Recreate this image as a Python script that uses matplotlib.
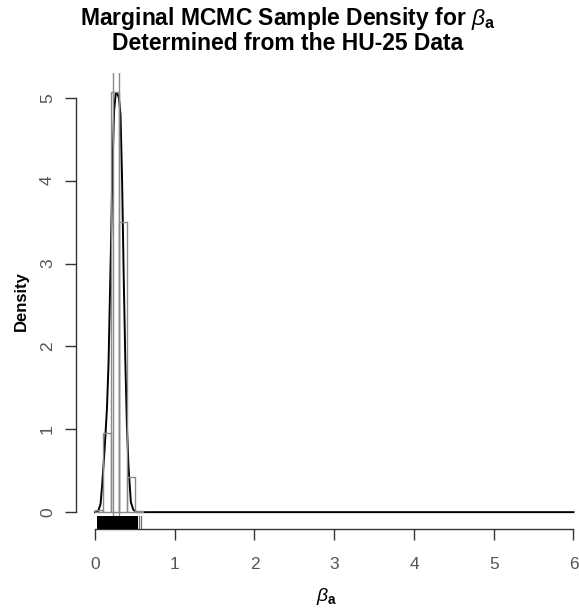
import matplotlib
matplotlib.use("Agg")
import matplotlib.pyplot as plt
import numpy as np

plt.rcParams['font.family'] = ['Liberation Sans', 'DejaVu Sans']
plt.rcParams['mathtext.fontset'] = 'custom'
plt.rcParams['mathtext.rm'] = 'Liberation Sans'
plt.rcParams['mathtext.it'] = 'Liberation Sans:italic'
plt.rcParams['mathtext.bf'] = 'Liberation Sans:bold'

# histogram (density) bins
bin_edges = [0.0, 0.1, 0.2, 0.3, 0.4, 0.5, 0.6]
bin_density = [0.03, 0.96, 5.07, 3.50, 0.43, 0.01]

# density curve evaluated over the prior range
curve_x = [0.0, 0.04, 0.07, 0.09, 0.12, 0.15, 0.17, 0.20, 0.22, 0.24, 0.26, 0.28,
           0.30, 0.32, 0.34, 0.36, 0.38, 0.40, 0.42, 0.45, 0.48, 0.52, 0.60, 6.0]
curve_y = [0.0, 0.01, 0.10, 0.33, 0.75, 1.25, 1.80, 3.20, 4.20, 4.85, 5.05, 5.05,
           5.00, 4.80, 4.00, 2.85, 1.85, 1.05, 0.55, 0.12, 0.03, 0.0, 0.0, 0.0]

# vertical reference lines
vlines_x = [0.225, 0.297]

# rug of samples: dense band plus isolated samples
rug_band = (0.02, 0.535)
rug_single = [0.548, 0.575]

xticks = [0, 1, 2, 3, 4, 5, 6]
yticks = [0, 1, 2, 3, 4, 5]

fig = plt.figure(figsize=(5.79, 6.08), dpi=100)
ax = fig.add_axes([0.131, 0.130, 0.865, 0.750])
ax.set_xlim(-0.24, 6.04)
ax.set_ylim(-0.2028, 5.30)

widths = [bin_edges[i + 1] - bin_edges[i] for i in range(len(bin_density))]
# white bar fill
ax.bar(bin_edges[:-1], bin_density, width=widths, align='edge',
       facecolor='white', edgecolor='none', zorder=2)

# density curve
ax.plot(curve_x, curve_y, color='black', linewidth=1.4, zorder=3)

# bar outlines on top
ax.bar(bin_edges[:-1], bin_density, width=widths, align='edge',
       facecolor='none', edgecolor='#8a8a8a', linewidth=1.0, zorder=4)

# vertical lines
for vx in vlines_x:
    ax.axvline(vx, color='#8a8a8a', linewidth=1.0, zorder=4)

# rug
ax.fill_between([rug_band[0], rug_band[1]], -0.2028, -0.045, color='black',
                linewidth=0, zorder=4)
for rx in rug_single:
    ax.plot([rx, rx], [-0.2028, -0.045], color='#707070', linewidth=0.9, zorder=4)

for s in ['top', 'right']:
    ax.spines[s].set_visible(False)
ax.spines['left'].set_bounds(0, 5)
ax.spines['bottom'].set_bounds(0, 6)
for s in ['left', 'bottom']:
    ax.spines[s].set_color('#333333')
    ax.spines[s].set_linewidth(1.0)

ax.set_xticks(xticks)
ax.set_yticks(yticks)
ax.set_xticklabels([str(v) for v in xticks])
ax.set_yticklabels([str(v) for v in yticks], rotation=90, va='center')
ax.tick_params(axis='both', length=8, width=1.0, color='#333333',
               labelcolor='#555555', labelsize=12.5)
ax.tick_params(axis='x', pad=12)
ax.tick_params(axis='y', pad=7)

ax.set_ylabel('Density', fontsize=12, fontweight='bold', labelpad=8)
ax.set_xlabel(r'$\mathit{\beta}_\mathbf{a}$', fontsize=14, labelpad=10)

fig.text(0.497, 0.992, r'Marginal MCMC Sample Density for $\mathit{\beta}_\mathbf{a}$' + '\nDetermined from the HU-25 Data',
         ha='center', va='top', fontsize=16.5, fontweight='bold', linespacing=1.0)

fig.savefig('out.png', dpi=100)
